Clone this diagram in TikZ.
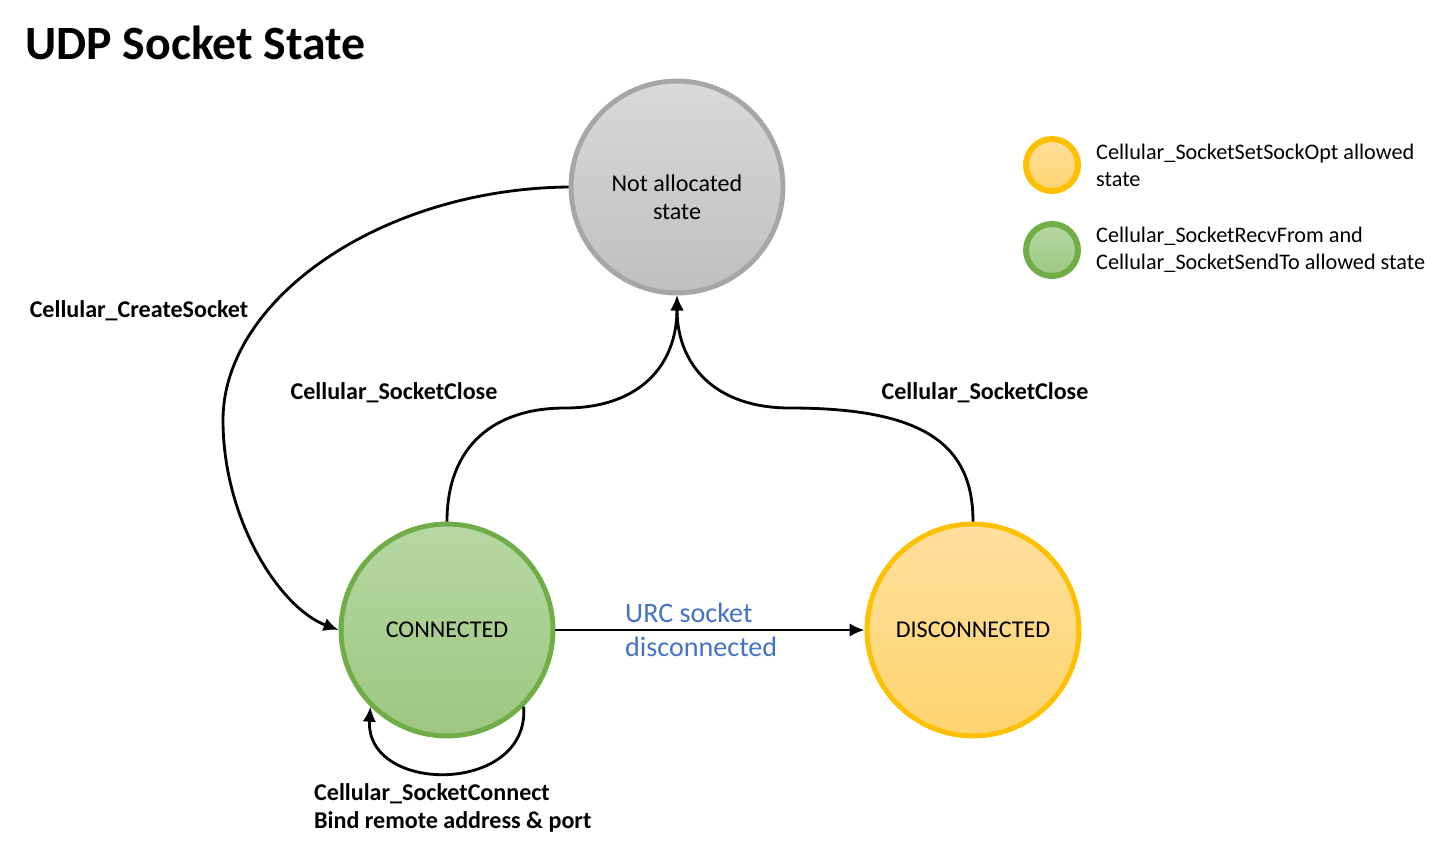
\documentclass[tikz,border=0pt]{standalone}
\usepackage{fontspec}
\setmainfont{Carlito}
\usetikzlibrary{arrows.meta}
\definecolor{graybd}{HTML}{A6A6A6}
\definecolor{graytop}{HTML}{D9D9D9}
\definecolor{graybot}{HTML}{BFBFBF}
\definecolor{greenbd}{HTML}{70AD47}
\definecolor{greentop}{HTML}{B6D7A2}
\definecolor{greenbot}{HTML}{9BC77F}
\definecolor{orangebd}{HTML}{FFC000}
\definecolor{orangetop}{HTML}{FFDF9E}
\definecolor{orangebot}{HTML}{FFD46E}
\definecolor{urcblue}{HTML}{4472C4}
\tikzset{
    statecirc/.style={circle, minimum size=4.24cm, inner sep=0pt, line width=2.8pt, align=center,
        font=\fontsize{13.7}{16.4}\selectfont},
    legendcirc/.style={circle, minimum size=1.04cm, inner sep=0pt, line width=3.4pt},
    trans/.style={line width=1.6pt, -{Latex[length=3mm, width=2.7mm]}},
    translabel/.style={font=\fontsize{13.7}{16.4}\selectfont\bfseries, align=left},
    legendtext/.style={anchor=west, align=left, font=\fontsize{12.65}{15.3}\selectfont}
}
\begin{document}
\begin{tikzpicture}[x=0.02cm, y=-0.02cm]
    \useasboundingbox (0,0) rectangle (1448,843);

    \node[anchor=west, font=\fontsize{27.2}{32}\selectfont\bfseries] (title) at (19,43) {UDP Socket State};

    \node[statecirc, draw=graybd, top color=graytop, bottom color=graybot] (notalloc) at (677,187) {\rule{0pt}{0.74cm}Not allocated\\state};
    \node[statecirc, draw=greenbd, top color=greentop, bottom color=greenbot] (conn) at (447,630) {CONNECTED};
    \node[statecirc, draw=orangebd, top color=orangetop, bottom color=orangebot] (disconn) at (973,630) {DISCONNECTED};

    \node[legendcirc, draw=orangebd, top color=orangetop, bottom color=orangebot] (legopt) at (1052,165) {};
    \node[legendcirc, draw=greenbd, top color=greentop, bottom color=greenbot] (legio) at (1052,250) {};
    \node[legendtext] (legopttext) at (1090,165) {Cellular\_SocketSetSockOpt allowed\\state};
    \node[legendtext] (legiotext) at (1090,250) {Cellular\_SocketRecvFrom and\\Cellular\_SocketSendTo allowed state};

    \draw[trans] (notalloc.west) .. controls (380,189) and (223,300) .. (223,420)
        .. controls (223,520) and (280,608) .. (conn.west);
    \draw[trans] (conn.north) .. controls (447,445) and (495,408) .. (565,408)
        .. controls (640,408) and (677,365) .. (notalloc.south);
    \draw[trans] (disconn.north) .. controls (973,445) and (925,408) .. (790,408)
        .. controls (715,408) and (677,365) .. (notalloc.south);
    \draw[trans] (conn.east) -- (disconn.west);
    \draw[trans] (conn.-45) .. controls (530,795) and (365,795) .. (conn.-135);

    \node[translabel] (createlbl) at (139,311) {Cellular\_CreateSocket};
    \node[translabel] (closelbl1) at (394,393) {Cellular\_SocketClose};
    \node[translabel] (closelbl2) at (985,393) {Cellular\_SocketClose};
    \node[translabel, anchor=west] (connectlbl) at (308,808) {Cellular\_SocketConnect\\Bind remote address \& port};
    \node[anchor=west, align=left, text=urcblue, font=\fontsize{16}{19.3}\selectfont] (urclbl) at (619,630) {URC socket\\disconnected};
\end{tikzpicture}
\end{document}
